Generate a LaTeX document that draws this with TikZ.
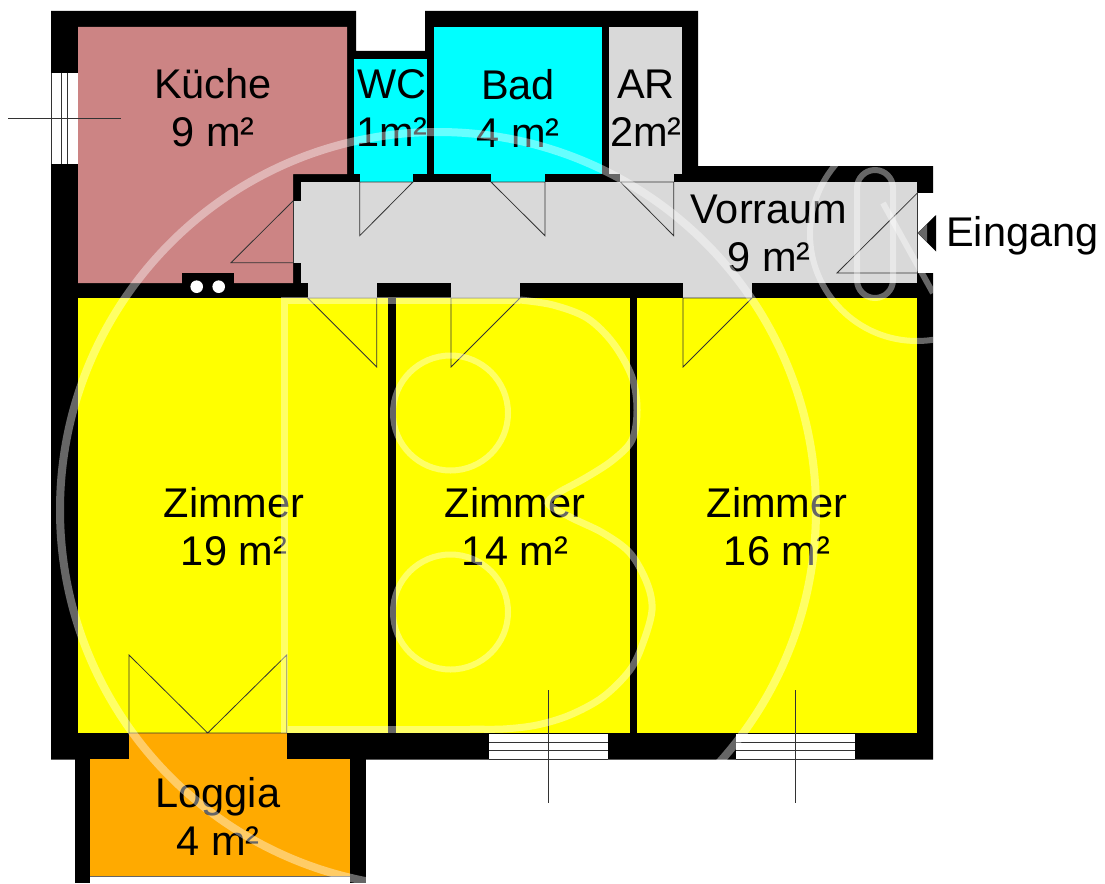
\documentclass[tikz,border=0pt]{standalone}
\usepackage{fontspec}
\setmainfont{Liberation Sans}
\definecolor{kueche}{HTML}{CC8484}
\definecolor{nass}{HTML}{00FFFF}
\definecolor{flur}{HTML}{D9D9D9}
\definecolor{zimmer}{HTML}{FFFF00}
\definecolor{loggia}{HTML}{FFAA00}
\tikzset{
  roomlabel/.style={font=\fontsize{41.5}{48}\selectfont,align=center,inner sep=0pt,text=black},
  thin line/.style={draw=black!80,line width=0.8pt,line join=miter},
  watermark/.style={draw=white,draw opacity=.4,fill=none},
}
\begin{document}
\begin{tikzpicture}[x=1pt,y=-1pt]
\path[use as bounding box,fill=white] (0,0) rectangle (1105,883);
% walls
\fill[black] (75,755) rectangle (366,883);
\fill[black] (51,11) -- (356,11) -- (356,51) -- (425,51) -- (425,11) -- (698,11) -- (698,166) -- (933,166) -- (933,759.5) -- (51,759.5) -- cycle;
% rooms
\fill[kueche] (78,27) -- (347,27) -- (347,174) -- (293,174) -- (293,283) -- (78,283) -- cycle;
\fill[nass] (353.7,59.3) rectangle (427.3,174);
\fill[nass] (359.7,174) rectangle (413,182);
\fill[nass] (434.4,27) rectangle (601.7,174);
\fill[nass] (491,174) rectangle (545,182);
\fill[flur] (609,27) rectangle (682.4,174);
\fill[flur] (620.4,174) rectangle (673.7,182);
\fill[flur] (301,182) rectangle (917.4,283);
\fill[flur] (293,201) rectangle (301,262.7);
\fill[flur] (307.7,283) rectangle (376.7,298);
\fill[flur] (451,283) rectangle (520,298);
\fill[flur] (683,283) rectangle (752,298);
\fill[zimmer] (78,298) rectangle (388,733);
\fill[zimmer] (396,298) rectangle (629.5,733);
\fill[zimmer] (637,298) rectangle (917.4,733);
\fill[loggia] (129,733) rectangle (286.5,760);
\fill[loggia] (90,759) rectangle (350,876);
\fill[white] (90,876) rectangle (350,883);
\draw[thin line,draw=black!60] (90,876) -- (350,876);
% chimney
\fill[black] (182.3,273.3) rectangle (233.7,298);
\fill[white] (196.7,286.7) circle[radius=6.3];
\fill[white] (218.7,286.7) circle[radius=6.3];
% entrance gap and arrow
\fill[white] (917.4,193) rectangle (934,273);
\fill[black] (917.7,233) -- (936,215) -- (936,251.5) -- cycle;
\fill[black!60] (917.7,233) -- (927,224) -- (927,242) -- cycle;
% windows
\fill[white] (51.5,72.7) rectangle (78,164.3);
\fill[white] (489,733.5) rectangle (607.7,759);
\fill[white] (736,733.5) rectangle (854.7,759);
\draw[thin line] (51.5,72.7) -- (51.5,164.3) (61.7,72.7) -- (61.7,164.3) (67.7,72.7) -- (67.7,164.3);
\draw[thin line] (8,118.3) -- (121,118.3);
\draw[thin line] (489,742.7) -- (607.7,742.7) (489,750) -- (607.7,750) (489,759) -- (607.7,759);
\draw[thin line] (548.3,690) -- (548.3,802.7);
\draw[thin line] (736,742.7) -- (854.7,742.7) (736,750) -- (854.7,750) (736,759) -- (854.7,759);
\draw[thin line] (795,690) -- (795,802.7);
% doors
\draw[thin line] (293,201) -- (231,262.7) -- (293,262.7);
\draw[thin line] (293,201) -- (293,262.7);
\draw[thin line] (359.7,182) -- (359.7,235.7) -- (413,182) -- cycle;
\draw[thin line] (491,182) -- (545,235.7) -- (545,182) -- cycle;
\draw[thin line] (620.4,182) -- (673.7,235.7) -- (673.7,182) -- cycle;
\draw[thin line] (917.4,193) -- (837,273) -- (917.4,273) -- cycle;
\draw[thin line] (307.7,298) -- (376.7,367) -- (376.7,298) -- cycle;
\draw[thin line] (520,298) -- (451,367) -- (451,298) -- cycle;
\draw[thin line] (752,298) -- (683,367) -- (683,298) -- cycle;
\draw[thin line] (129,733) -- (129,655) -- (207.7,733) -- (286.7,655) -- (286.7,733) -- cycle;
% labels
\node[roomlabel] (kue) at (213,108) {Küche\\9 m²};
\node[roomlabel] (wc) at (392,108) {WC\\1m²};
\node[roomlabel] (bad) at (518,108) {Bad\\4 m²};
\node[roomlabel] (ar) at (646,108) {AR\\2m²};
\node[roomlabel] (vor) at (769,233) {Vorraum\\9 m²};
\node[roomlabel,anchor=base west] (ein) at (946,246.5) {Eingang};
\node[roomlabel] (z1) at (234,526.5) {Zimmer\\19 m²};
\node[roomlabel] (z2) at (515,526.5) {Zimmer\\14 m²};
\node[roomlabel] (z3) at (777,526.5) {Zimmer\\16 m²};
\node[roomlabel] (log) at (218,816.5) {Loggia\\4 m²};
% watermark
\begin{scope}
\clip (0,0) rectangle (933,883);
\draw[watermark,line width=8pt] (438,510) circle[radius=378];
\draw[watermark,line width=6pt] (917,234) circle[radius=107];
\draw[watermark,line width=6pt] (857,188) arc[start angle=180,end angle=360,radius=18] -- (893,280) arc[start angle=0,end angle=180,radius=18] -- cycle;
\draw[watermark,line width=6pt] (883,203) -- (933,293);
\end{scope}
\draw[watermark,line width=7pt] plot[smooth,tension=.55] coordinates {(520,300) (553,305) (587,318) (613,343) (632,377) (637,410) (632,440) (613,460) (587,477) (563,490)};
\draw[watermark,line width=7pt] plot[smooth,tension=.55] coordinates {(563,490) (548,503) (570,517) (603,533) (630,553) (647,583) (652,610) (643,643) (630,670) (603,697) (570,715) (537,725) (503,729) (470,729)};
\draw[watermark,line width=7pt,line join=miter] (520,300) -- (284,300) -- (284,729) -- (470,729);
\draw[watermark,line width=6pt] (450.5,413) circle[radius=57.5];
\draw[watermark,line width=6pt] (450.5,612) circle[radius=57.5];
\end{tikzpicture}
\end{document}
